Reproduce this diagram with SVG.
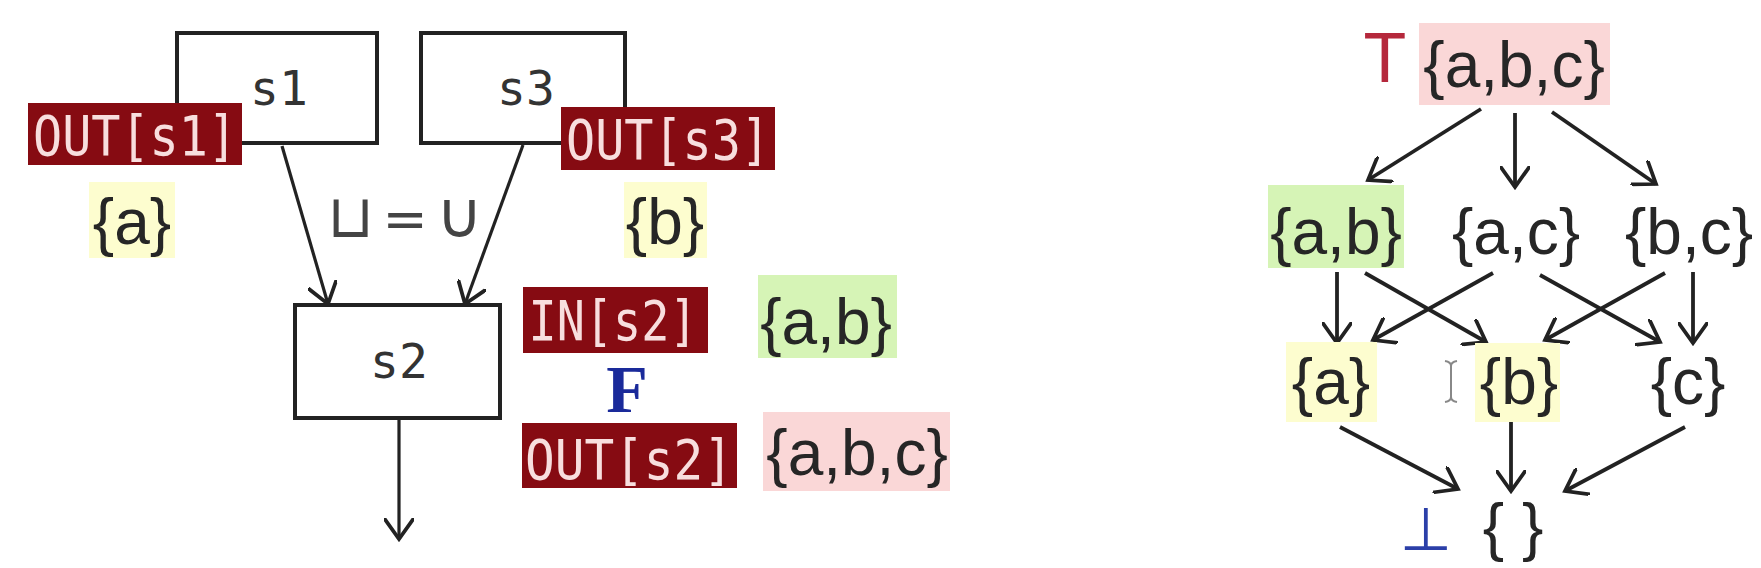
<svg xmlns="http://www.w3.org/2000/svg" width="1761" height="568" viewBox="0 0 1761 568">
<style>
.box{fill:#fff;stroke:#222;stroke-width:4}
.boxt{font-family:"DejaVu Sans Mono",monospace;font-size:48px;fill:#333;text-anchor:middle}
.lab{fill:#860b12}
.labt{font-family:"DejaVu Sans Mono",monospace;font-size:55px;fill:#f8dede;text-anchor:middle}
.set{font-family:"Liberation Sans",Arial,sans-serif;font-size:64px;fill:#262626;text-anchor:middle}
.yel{fill:#fdfdcf}
.grn{fill:#d6f4b6}
.pnk{fill:#fad7d7}
.edge{stroke:#222;stroke-width:3.2;fill:none}
.ledge{stroke:#222;stroke-width:3.8;fill:none}
.join{font-family:"DejaVu Sans",sans-serif;fill:#444;text-anchor:middle}
</style>
<defs>
<marker id="ah" viewBox="0 0 20 20" refX="14" refY="10" markerWidth="30" markerHeight="30" markerUnits="userSpaceOnUse" orient="auto">
<path d="M0,0 L14,10 L0,20" fill="none" stroke="#222" stroke-width="2.5"/>
</marker>
</defs>
<rect width="1761" height="568" fill="#fff"/>

<g id="connectors">
<line class="edge" x1="282" y1="146" x2="328" y2="304" marker-end="url(#ah)"/>
<line class="edge" x1="523" y1="145" x2="465" y2="304" marker-end="url(#ah)"/>
<line class="edge" x1="399" y1="418" x2="399" y2="539" marker-end="url(#ah)"/>
<line class="ledge" x1="1481" y1="109" x2="1368" y2="180" marker-end="url(#ah)"/>
<line class="ledge" x1="1515" y1="113" x2="1515" y2="187" marker-end="url(#ah)"/>
<line class="ledge" x1="1552" y1="112" x2="1656" y2="184" marker-end="url(#ah)"/>
<line class="ledge" x1="1337" y1="272" x2="1337" y2="343" marker-end="url(#ah)"/>
<line class="ledge" x1="1365" y1="273" x2="1486" y2="342" marker-end="url(#ah)"/>
<line class="ledge" x1="1493" y1="273" x2="1373" y2="340" marker-end="url(#ah)"/>
<line class="ledge" x1="1540" y1="275" x2="1660" y2="342" marker-end="url(#ah)"/>
<line class="ledge" x1="1665" y1="273" x2="1545" y2="340" marker-end="url(#ah)"/>
<line class="ledge" x1="1693" y1="272" x2="1693" y2="343" marker-end="url(#ah)"/>
<line class="ledge" x1="1340" y1="427" x2="1458" y2="489" marker-end="url(#ah)"/>
<line class="ledge" x1="1511" y1="420" x2="1511" y2="491" marker-end="url(#ah)"/>
<line class="ledge" x1="1685" y1="427" x2="1565" y2="491" marker-end="url(#ah)"/>
</g>

<g id="s1">
<rect class="box" x="177" y="33" width="200" height="110"/>
<text class="boxt" x="279" y="105">s1</text>
</g>
<g id="s3">
<rect class="box" x="421" y="33" width="204" height="110"/>
<text class="boxt" x="526" y="105">s3</text>
</g>
<g id="s2">
<rect class="box" x="295" y="305" width="205" height="113"/>
<text class="boxt" x="399" y="378">s2</text>
</g>

<g id="out-s1">
<rect class="lab" x="28" y="103" width="214" height="62"/>
<text class="labt" x="135" y="155" textLength="204" lengthAdjust="spacingAndGlyphs">OUT[s1]</text>
</g>
<g id="out-s3">
<rect class="lab" x="561" y="107" width="214" height="63"/>
<text class="labt" x="668" y="159" textLength="204" lengthAdjust="spacingAndGlyphs">OUT[s3]</text>
</g>
<g id="in-s2">
<rect class="lab" x="523" y="287" width="185" height="66"/>
<text class="labt" x="613" y="340" textLength="169" lengthAdjust="spacingAndGlyphs">IN[s2]</text>
</g>
<g id="out-s2">
<rect class="lab" x="522" y="423" width="215" height="65"/>
<text class="labt" x="629" y="479" textLength="208" lengthAdjust="spacingAndGlyphs">OUT[s2]</text>
</g>

<g id="set-a-left">
<rect class="yel" x="89" y="182" width="86" height="76"/>
<text class="set" x="132" y="244" font-size="62">{a}</text>
</g>
<g id="set-b-left">
<rect class="yel" x="624" y="182" width="83" height="76"/>
<text class="set" x="665" y="244" font-size="62">{b}</text>
</g>
<g id="join-label">
<text class="join" y="237" font-size="60"><tspan x="351">⊔</tspan><tspan x="405" font-size="54">=</tspan><tspan x="459" font-size="64" font-weight="300">∪</tspan></text>
</g>
<g id="in-val">
<rect class="grn" x="758" y="275" width="139" height="83"/>
<text class="set" x="826" y="344">{a,b}</text>
</g>
<g id="F">
<text x="627" y="412" font-family="Liberation Serif,serif" font-weight="bold" font-size="68" fill="#1a2a9a" text-anchor="middle">F</text>
</g>
<g id="out-val">
<rect class="pnk" x="763" y="412" width="187" height="79"/>
<text class="set" x="857" y="475">{a,b,c}</text>
</g>

<g id="top">
<text x="1385" y="82" font-family="Liberation Sans,Arial,sans-serif" font-size="70" fill="#b5283c" text-anchor="middle">T</text>
<rect class="pnk" x="1419" y="23" width="191" height="82"/>
<text class="set" x="1514" y="87" font-size="66">{a,b,c}</text>
</g>
<g id="ab">
<rect class="grn" x="1268" y="185" width="136" height="83"/>
<text class="set" x="1336" y="254">{a,b}</text>
</g>
<g id="ac">
<text class="set" x="1516" y="254">{a,c}</text>
</g>
<g id="bc">
<text class="set" x="1689" y="254">{b,c}</text>
</g>
<g id="a">
<rect class="yel" x="1286" y="342" width="91" height="80"/>
<text class="set" x="1331" y="404">{a}</text>
</g>
<g id="b">
<rect class="yel" x="1475" y="343" width="85" height="79"/>
<text class="set" x="1519" y="404">{b}</text>
</g>
<g id="c">
<text class="set" x="1688" y="404">{c}</text>
</g>
<g id="bottom">
<text x="1426" y="550" font-family="DejaVu Sans,sans-serif" font-size="60" fill="#2b3fa8" text-anchor="middle">⊥</text>
<text class="set" x="1513" y="549" font-size="62">{ }</text>
</g>
<g id="cursor">
<path d="M1445,361 Q1451,362 1451,366 L1451,397 Q1451,401 1445,402 M1457,361 Q1451,362 1451,366 M1451,397 Q1451,401 1457,402" fill="none" stroke="#888" stroke-width="2"/>
</g>
</svg>
